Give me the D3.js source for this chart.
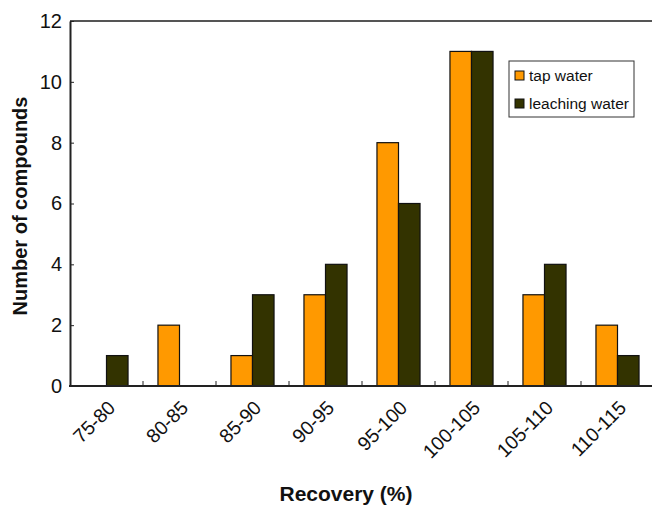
<!DOCTYPE html>
<html>
<head>
<meta charset="utf-8">
<script src="https://cdn.jsdelivr.net/npm/d3@7"></script>
<style>
  html, body { margin: 0; padding: 0; background: #fff; }
  svg { display: block; font-family: Arial, "Liberation Sans", sans-serif; }
</style>
</head>
<body>
<svg id="chart" width="652" height="506"></svg>
<script>
// Recovery ranges and number of compounds in each range
const categories = ["75-80", "80-85", "85-90", "90-95", "95-100", "100-105", "105-110", "110-115"];
const tapWater = [0, 2, 1, 3, 8, 11, 3, 2];
const leachingWater = [1, 0, 3, 4, 6, 11, 4, 1];
const seriesNames = ["tap water", "leaching water"];
const seriesColors = ["#FF9900", "#333300"];
const yTicks = [0, 2, 4, 6, 8, 10, 12];

const svg = d3.select("#chart");
const plotLeft = 70, plotRight = 654, plotTop = 21, plotBottom = 386;

const x = d3.scaleBand().domain(categories).range([plotLeft, plotRight]).paddingInner(0).paddingOuter(0);
const y = d3.scaleLinear().domain([0, 12]).range([plotBottom, plotTop]);
const barW = x.bandwidth() * 0.295;

const rows = categories.map((c, i) => ({ cat: c, values: [tapWater[i], leachingWater[i]] }));

// top frame line
svg.append("line")
  .attr("x1", plotLeft).attr("x2", plotRight)
  .attr("y1", y(12)).attr("y2", y(12))
  .attr("stroke", "#555").attr("stroke-width", 2);

// bars
const groups = svg.append("g").selectAll("g").data(rows).join("g")
  .attr("transform", d => `translate(${x(d.cat) + x.bandwidth() / 2},0)`);
groups.selectAll("rect")
  .data(d => d.values.map((v, k) => ({ v, k })).filter(e => e.v > 0))
  .join("rect")
  .attr("x", e => e.k === 0 ? -barW : 0)
  .attr("width", barW)
  .attr("y", e => y(e.v))
  .attr("height", e => y(0) - y(e.v))
  .attr("fill", e => seriesColors[e.k])
  .attr("stroke", "#111").attr("stroke-width", 1.2);

// y axis
const yAxis = svg.append("g").attr("transform", `translate(${plotLeft},0)`)
  .call(d3.axisLeft(y).tickValues(yTicks).tickFormat(d3.format("d")).tickSizeInner(-4).tickSizeOuter(0).tickPadding(8));
yAxis.select(".domain").attr("stroke", "#222").attr("stroke-width", 2);
yAxis.selectAll(".tick line").attr("stroke", "#222").attr("stroke-width", 1);
yAxis.selectAll(".tick text").attr("font-size", 20).attr("fill", "#111")
  .attr("font-family", "Arial, 'Liberation Sans', sans-serif");

// x axis with ticks at range boundaries pointing up
const boundaries = d3.range(1, categories.length).map(i => x(categories[i]));
svg.append("g").selectAll("line").data(boundaries).join("line")
  .attr("x1", d => d).attr("x2", d => d)
  .attr("y1", plotBottom).attr("y2", plotBottom - 5)
  .attr("stroke", "#222").attr("stroke-width", 1);
svg.append("line")
  .attr("x1", plotLeft - 1).attr("x2", plotRight)
  .attr("y1", plotBottom).attr("y2", plotBottom)
  .attr("stroke", "#222").attr("stroke-width", 2);

// rotated category labels
svg.append("g").selectAll("text").data(categories).join("text")
  .attr("transform", d => `translate(${x(d) + x.bandwidth() / 2 + 10},${plotBottom + 23}) rotate(-45)`)
  .attr("text-anchor", "end")
  .attr("font-size", 19.5)
  .attr("fill", "#111")
  .text(d => d);

// axis titles
svg.append("text")
  .attr("x", 346).attr("y", 501)
  .attr("text-anchor", "middle")
  .attr("font-size", 21).attr("font-weight", "bold").attr("fill", "#111")
  .text("Recovery (%)");
svg.append("text")
  .attr("transform", "translate(27,206) rotate(-90)")
  .attr("text-anchor", "middle")
  .attr("font-size", 20).attr("font-weight", "bold").attr("fill", "#111")
  .text("Number of compounds");

// legend
const legend = svg.append("g").attr("transform", "translate(509,61)");
legend.append("rect")
  .attr("width", 125).attr("height", 56)
  .attr("fill", "#fff").attr("stroke", "#333").attr("stroke-width", 1);
seriesNames.forEach((name, k) => {
  legend.append("rect")
    .attr("x", 6).attr("y", 10 + k * 28)
    .attr("width", 9).attr("height", 9)
    .attr("fill", seriesColors[k]).attr("stroke", "#111").attr("stroke-width", 1);
  legend.append("text")
    .attr("x", 20).attr("y", 20 + k * 28)
    .attr("font-size", 15.5).attr("fill", "#111")
    .text(name);
});
</script>
</body>
</html>
